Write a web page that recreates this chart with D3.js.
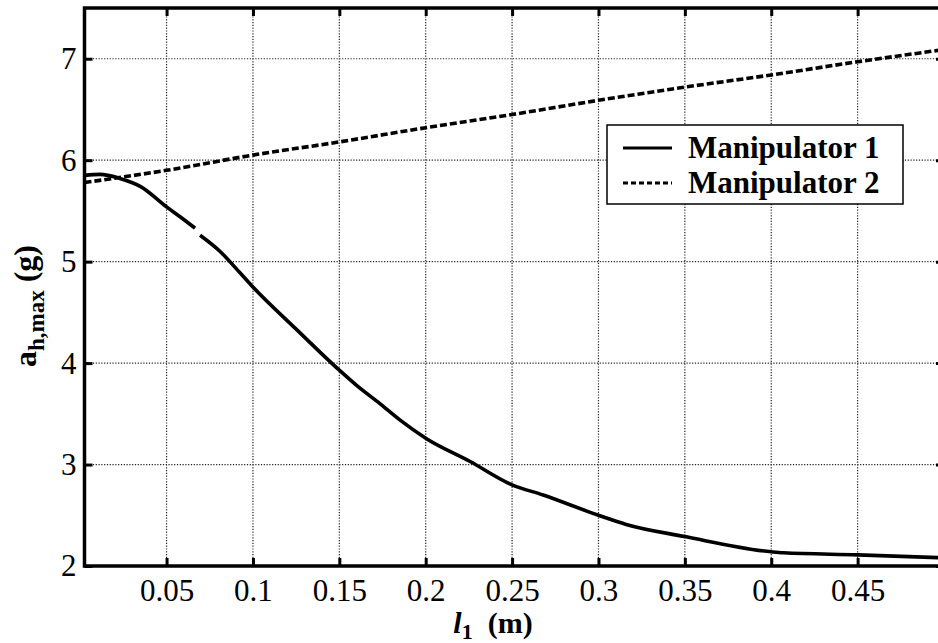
<!DOCTYPE html>
<html>
<head>
<meta charset="utf-8">
<script src="https://cdn.jsdelivr.net/npm/d3@7"></script>
<style>
  html, body { margin: 0; padding: 0; background: #fff; }
  svg { display: block; }
  svg text { font-family: "Liberation Serif", "Times New Roman", Times, "DejaVu Serif", serif !important; fill: #000; }
</style>
</head>
<body>
<script>
// ---- data ----
const xTicks = [0.05, 0.1, 0.15, 0.2, 0.25, 0.3, 0.35, 0.4, 0.45];
const xTickLabels = ["0.05", "0.1", "0.15", "0.2", "0.25", "0.3", "0.35", "0.4", "0.45"];
const yTicks = [2, 3, 4, 5, 6, 7];
const yTickLabels = ["2", "3", "4", "5", "6", "7"];
const seriesNames = ["Manipulator 1", "Manipulator 2"];

// Manipulator 1 (solid) -- null marks the small break in the curve
const m1X = [0.0025, 0.0115, 0.023, 0.035, 0.05, 0.058, 0.0665, 0.068, 0.0694, 0.081, 0.0925, 0.1, 0.1253, 0.15, 0.16, 0.1735, 0.185, 0.2, 0.2257, 0.25, 0.268, 0.3, 0.316, 0.35, 0.4, 0.407, 0.45, 0.5];
const m1Y = [5.85, 5.86, 5.82, 5.74, 5.54, 5.44, 5.33, null, 5.26, 5.10, 4.89, 4.75, 4.33, 3.93, 3.78, 3.60, 3.44, 3.26, 3.03, 2.80, 2.70, 2.50, 2.41, 2.29, 2.14, 2.13, 2.11, 2.08];

// Manipulator 2 (dashed)
const m2X = [0.0025, 0.05, 0.1, 0.15, 0.2, 0.25, 0.3, 0.35, 0.4, 0.45, 0.5];
const m2Y = [5.78, 5.90, 6.05, 6.18, 6.32, 6.45, 6.59, 6.72, 6.84, 6.97, 7.09];

// ---- layout ----
const W = 938, H = 643;
const svg = d3.select("body").append("svg").attr("width", W).attr("height", H);

const x = d3.scaleLinear().domain([0.0025, 0.5]).range([84.5, 944]);
const y = d3.scaleLinear().domain([2, 7.5]).range([566, 8]);

const [x0, x1] = x.range();
const [yb, yt] = y.range();

// grid
const grid = svg.append("g").attr("stroke", "#222").attr("stroke-width", 1.2).attr("stroke-dasharray", "1.2,1.6");
grid.selectAll(".vg").data(xTicks).join("line")
  .attr("x1", d => x(d)).attr("x2", d => x(d)).attr("y1", yt).attr("y2", yb);
grid.selectAll(".hg").data(yTicks.filter(d => d > 2)).join("line")
  .attr("x1", x0).attr("x2", x1).attr("y1", d => y(d)).attr("y2", d => y(d));

// axes (ticks inward)
const fs = 31;
const axBottom = svg.append("g").attr("transform", `translate(0,${yb})`)
  .call(d3.axisBottom(x).tickValues(xTicks).tickFormat((d, i) => xTickLabels[i]).tickSizeInner(-8).tickSizeOuter(0).tickPadding(13));
const axLeft = svg.append("g").attr("transform", `translate(${x0},0)`)
  .call(d3.axisLeft(y).tickValues(yTicks).tickFormat((d, i) => yTickLabels[i]).tickSizeInner(-8).tickSizeOuter(0).tickPadding(8));
const axTop = svg.append("g").attr("transform", `translate(0,${yt})`)
  .call(d3.axisTop(x).tickValues(xTicks).tickFormat("").tickSizeInner(-8).tickSizeOuter(0));
const axRight = svg.append("g").attr("transform", `translate(${x1},0)`)
  .call(d3.axisRight(y).tickValues(yTicks).tickFormat("").tickSizeInner(-8).tickSizeOuter(0));

[axBottom, axLeft, axTop, axRight].forEach(g => {
  g.attr("font-family", null);
  g.select(".domain").remove();
  g.selectAll(".tick line").attr("stroke", "#000").attr("stroke-width", 3);
  g.selectAll(".tick text").attr("font-size", fs).attr("fill", "#000");
});

// frame
svg.append("rect").attr("x", x0).attr("y", yt).attr("width", x1 - x0).attr("height", yb - yt)
  .attr("fill", "none").attr("stroke", "#000").attr("stroke-width", 3.5);

// lines
const line = d3.line().defined(d => d[1] != null).x(d => x(d[0])).y(d => y(d[1])).curve(d3.curveMonotoneX);
const m1 = m1X.map((v, i) => [v, m1Y[i]]);
const m2 = m2X.map((v, i) => [v, m2Y[i]]);

svg.append("path").datum(m1).attr("d", line).attr("fill", "none").attr("stroke", "#000").attr("stroke-width", 3.6);
svg.append("path").datum(m2).attr("d", line).attr("fill", "none").attr("stroke", "#000").attr("stroke-width", 3.6).attr("stroke-dasharray", "7,3");

// legend
const lg = svg.append("g");
lg.append("rect").attr("x", 607).attr("y", 125).attr("width", 296).attr("height", 79)
  .attr("fill", "#fff").attr("stroke", "#000").attr("stroke-width", 1.5);
const rows = [{name: seriesNames[0], dash: null, ly: 148}, {name: seriesNames[1], dash: "5,3", ly: 183}];
rows.forEach(r => {
  lg.append("line").attr("x1", 623).attr("x2", 672).attr("y1", r.ly).attr("y2", r.ly)
    .attr("stroke", "#000").attr("stroke-width", 3).attr("stroke-dasharray", r.dash);
  lg.append("text").attr("x", 688).attr("y", r.ly + 10).attr("font-size", 31).attr("font-weight", "bold").text(r.name);
});

// y label
const yl = svg.append("text").attr("transform", "translate(36,306) rotate(-90)")
  .attr("text-anchor", "middle").attr("font-size", 32).attr("font-weight", "bold");
yl.append("tspan").text("a");
yl.append("tspan").attr("font-size", 23).attr("dy", 8).text("h,max");
yl.append("tspan").attr("dy", -8).attr("dx", 8).text("(g)");

// x label
const xl = svg.append("text").attr("x", 493).attr("y", 633).attr("text-anchor", "middle")
  .attr("font-size", 30).attr("font-weight", "bold");
xl.append("tspan").attr("font-style", "italic").text("l");
xl.append("tspan").attr("font-size", 22).attr("dy", 6).text("1");
xl.append("tspan").attr("dy", -6).attr("dx", 15).text("(m)");
</script>
</body>
</html>
